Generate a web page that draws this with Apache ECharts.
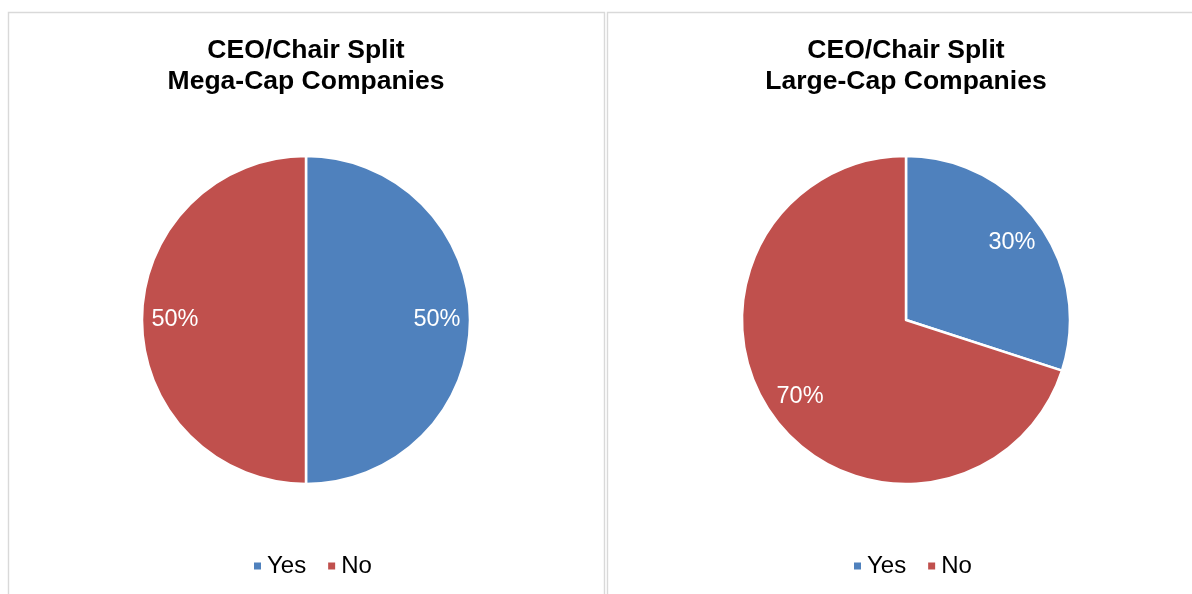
<!DOCTYPE html>
<html>
<head>
<meta charset="utf-8">
<title>CEO/Chair Split</title>
<script src="https://cdn.jsdelivr.net/npm/echarts@6/dist/echarts.min.js"></script>
<style>
  html, body { margin: 0; padding: 0; background: #ffffff; }
  #chart { width: 1192px; height: 594px; }
</style>
</head>
<body>
<div id="chart"></div>
<script>
// Share of companies that split the CEO and Chair roles
const categories = ['Yes', 'No'];
const megaCapShares = [50, 50];
const largeCapShares = [30, 70];
const panelTitles = [
  'CEO/Chair Split\nMega-Cap Companies',
  'CEO/Chair Split\nLarge-Cap Companies'
];
const sliceColors = ['#4f81bd', '#c0504d'];

const FONT = '"Liberation Sans", Arial, Helvetica, sans-serif';

const panels = [
  { shares: megaCapShares, cx: 306, title: panelTitles[0] },
  { shares: largeCapShares, cx: 906, title: panelTitles[1] }
];

function toData(shares) {
  return categories.map((name, i) => ({ name, value: shares[i] }));
}

const series = [];
panels.forEach((p) => {
  // visible slices
  series.push({
    type: 'pie',
    center: [p.cx, 320],
    radius: [0, 164],
    startAngle: 90,
    clockwise: true,
    color: sliceColors,
    itemStyle: { borderColor: '#ffffff', borderWidth: 2.5 },
    label: { show: false },
    labelLine: { show: false },
    emphasis: { disabled: true },
    data: toData(p.shares)
  });
  // ring carrying the percentage labels near the rim
  series.push({
    type: 'pie',
    center: [p.cx, 320],
    radius: [92, 164],
    startAngle: 90,
    clockwise: true,
    silent: true,
    color: sliceColors,
    itemStyle: { color: 'rgba(0,0,0,0)', borderWidth: 0 },
    label: {
      show: true,
      position: 'inside',
      formatter: '{c}%',
      color: '#ffffff',
      fontFamily: FONT,
      fontSize: 23.5
    },
    labelLine: { show: false },
    emphasis: { disabled: true },
    data: toData(p.shares)
  });
});

const option = {
  animation: false,
  backgroundColor: '#ffffff',
  graphic: [
    {
      type: 'rect',
      shape: { x: 8.5, y: 12.5, width: 596, height: 640 },
      style: { fill: 'none', stroke: '#d9d9d9', lineWidth: 1.4 },
      silent: true
    },
    {
      type: 'rect',
      shape: { x: 607.5, y: 12.5, width: 640, height: 640 },
      style: { fill: 'none', stroke: '#d9d9d9', lineWidth: 1.4 },
      silent: true
    }
  ],
  title: panels.map((p) => ({
    text: p.title,
    left: p.cx,
    top: 35,
    padding: 0,
    textAlign: 'center',
    textStyle: {
      fontFamily: FONT,
      fontSize: 26.5,
      fontWeight: 'bold',
      color: '#000000',
      lineHeight: 31
    }
  })),
  legend: panels.map((p) => ({
    data: categories.map((name, i) => ({ name, itemStyle: { color: sliceColors[i] } })),
    left: p.cx - 54,
    top: 554,
    padding: 0,
    icon: 'rect',
    itemWidth: 9,
    itemHeight: 9,
    itemGap: 20,
    selectedMode: false,
    textStyle: { fontFamily: FONT, fontSize: 24, color: '#000000' }
  })),
  series
};

const chart = echarts.init(document.getElementById('chart'), null, { renderer: 'canvas' });
chart.setOption(option);
</script>
</body>
</html>
